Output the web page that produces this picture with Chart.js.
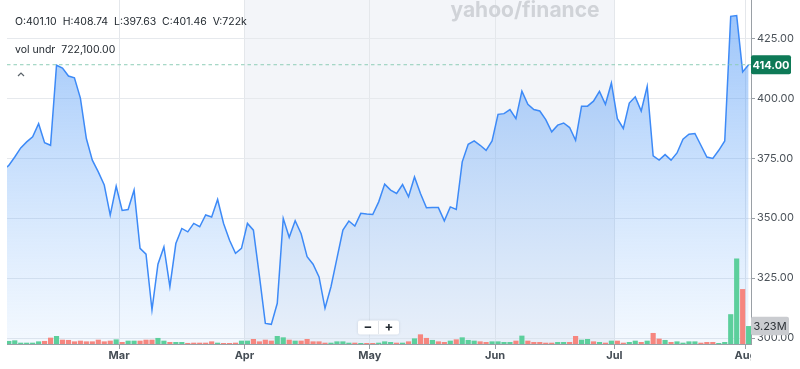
<!DOCTYPE html>
<html>
<head>
<meta charset="utf-8">
<script src="https://cdn.jsdelivr.net/npm/chart.js@4.4.1/dist/chart.umd.min.js"></script>
<style>
  html, body { margin: 0; padding: 0; background: #fff; }
  #wrap { width: 800px; height: 369px; position: relative; }
</style>
</head>
<body>
<div id="wrap"><canvas id="priceChart"></canvas></div>
<script>
// daily closes, one per trading day (Feb -> Aug 1)
const closes = [370, 372, 375.5, 379.3, 381.8, 383.9, 389.4, 381.5, 380.4, 413.8,
  412.6, 409.3, 408.5, 400.1, 383.2, 374.2, 369.3, 363.8, 351.3, 363.3,
  353.2, 353.6, 361.7, 337.4, 335.0, 311.7, 330.8, 338.0, 321.4, 339.4,
  345.7, 344.3, 347.8, 346.4, 351.3, 350.5, 357.8, 347.8, 340.8, 335.3,
  337.4, 347.8, 345.0, 326.0, 306.1, 305.7, 314.5, 349.9, 342.0, 348.9,
  343.5, 333.9, 330.8, 325.5, 312.4, 321.4, 333.2, 345.0, 348.8, 346.7,
  352.0, 351.7, 351.5, 356.8, 364.2, 361.7, 360.3, 364.0, 358.9, 367.2,
  360.3, 354.3, 354.4, 354.4, 348.9, 354.7, 353.6, 373.5, 380.8, 382.2,
  380.4, 378.3, 382.2, 393.3, 393.6, 395.3, 391.5, 403.0, 397.5, 395.3,
  394.7, 391.1, 386.0, 388.8, 389.7, 387.8, 382.5, 396.7, 396.7, 398.8,
  402.9, 397.5, 406.4, 391.5, 387.4, 398.0, 400.6, 394.7, 405.0, 376.0,
  374.2, 376.5, 374.2, 377.2, 382.9, 385.0, 385.3, 380.4, 375.5, 374.9,
  378.3, 382.2, 434.2, 434.5, 411.0, 414.0];

// volume in millions
const volumes = [0.30, 0.50, 0.61, 0.18, 0.18, 0.18, 0.42, 0.50, 1.10, 1.41,
  0.73, 0.68, 0.42, 0.55, 0.42, 0.42, 0.73, 0.42, 0.55, 0.79,
  0.31, 0.55, 0.55, 0.55, 0.73, 0.73, 1.05, 0.55, 0.31, 0.31,
  0.31, 0.13, 0.18, 0.18, 0.18, 0.42, 0.18, 0.12, 0.12, 0.18,
  0.55, 0.55, 0.86, 0.42, 0.73, 0.55, 1.41, 1.16, 0.73, 0.55,
  0.55, 0.86, 0.42, 0.42, 0.18, 0.18, 0.42, 0.42, 0.18, 0.18,
  0.12, 0.12, 0.12, 0.18, 0.42, 0.31, 0.18, 0.18, 0.42, 0.97,
  1.71, 1.05, 0.68, 0.42, 0.31, 0.55, 0.79, 1.16, 0.68, 0.55,
  0.42, 0.31, 0.42, 0.42, 0.31, 0.31, 0.55, 1.47, 0.55, 0.31,
  0.31, 0.18, 0.18, 0.31, 0.31, 0.31, 1.41, 0.73, 0.86, 0.42,
  0.31, 0.18, 0.55, 0.55, 0.18, 0.31, 0.55, 0.31, 0.55, 1.96,
  0.92, 0.68, 0.31, 0.42, 0.18, 0.42, 0.42, 0.18, 0.31, 0.31,
  0.12, 0.31, 5.4, 15.6, 10.0, 3.23];

// 1 = up day (green bar), 0 = down day (red bar)
const volUp = [1,1,1,1,1,1,1,0,0,1, 0,0,0,0,0,0,0,0,0,1,
  0,1,1,0,0,0,1,1,0,1, 1,0,0,0,0,0,1,0,0,0,
  1,1,0,0,0,0,1,1,0,1, 0,0,0,0,0,1,1,1,1,0,
  1,0,0,1,1,1,0,1,0,1, 0,0,1,0,0,1,0,1,1,1,
  0,0,1,1,1,1,0,1,0,0, 0,0,0,1,1,0,0,1,1,0,
  1,0,1,0,0,1,1,0,1,0, 0,1,0,1,1,1,1,0,0,0,
  1,1,1,1,0,1];

const monthLabels = ['Mar', 'Apr', 'May', 'Jun', 'Jul', 'Aug'];
const monthStart = [20, 41, 62, 83, 103, 125];   // index of first trading day
const priceTicks = [300, 325, 350, 375, 400, 425];
const lastPrice = 414;
const lastVolume = '3.23M';
const headerText = 'O:401.10  H:408.74  L:397.63  C:401.46  V:722k';
const studyText = 'vol undr  722,100.00';

const FONT = 'Inter, "Noto Sans", sans-serif';

const overlay = {
  id: 'overlay',
  beforeDraw(chart) {
    const c = chart.ctx, a = chart.chartArea, x = chart.scales.x;
    // shaded quarter Apr -> Jul
    const x0 = x.getPixelForValue(monthStart[1] - 0.5);
    const x1 = x.getPixelForValue(monthStart[4] - 0.5);
    c.save();
    c.fillStyle = '#f3f5f9';
    c.fillRect(x0, a.top, x1 - x0, a.bottom - a.top);
    c.restore();
  },
  afterDraw(chart) {
    const c = chart.ctx, a = chart.chartArea, x = chart.scales.x, y = chart.scales.y;
    c.save();

    // watermark
    c.fillStyle = '#d0d3d8';
    c.font = 'bold 21px ' + FONT;
    c.textAlign = 'center';
    c.textBaseline = 'alphabetic';
    c.fillText('yahoo/finance', 525, 17);

    // header
    c.fillStyle = '#232a31';
    c.font = '10.5px ' + FONT;
    c.textAlign = 'left';
    c.textBaseline = 'middle';
    c.fillText(headerText, 15, 22);
    c.fillText(studyText, 15, 50);

    // collapse caret
    c.strokeStyle = '#5b636a';
    c.lineWidth = 1.2;
    c.beginPath();
    c.moveTo(18, 76); c.lineTo(21, 73); c.lineTo(24, 76);
    c.stroke();

    // last price dashed line
    const yp = y.getPixelForValue(lastPrice);
    c.strokeStyle = '#8fcdb8';
    c.lineWidth = 1;
    c.setLineDash([3.5, 3]);
    c.beginPath();
    c.moveTo(a.left, yp); c.lineTo(a.right, yp);
    c.stroke();
    c.setLineDash([]);

    // last price label
    c.fillStyle = '#0e7a57';
    c.beginPath();
    c.roundRect(a.right, yp - 9.5, 40, 19, 2);
    c.fill();
    c.fillStyle = '#fff';
    c.font = 'bold 11px ' + FONT;
    c.textAlign = 'center';
    c.fillText(lastPrice.toFixed(2), a.right + 20, yp + 0.5);

    // last volume label
    const vb = chart.scales.vol.getPixelForValue(volumes[volumes.length - 1]);
    c.fillStyle = '#caccd0';
    c.beginPath();
    c.roundRect(a.right, vb - 9.5, 38, 18.5, 2);
    c.fill();
    c.fillStyle = '#2c3136';
    c.font = '11px ' + FONT;
    c.fillText(lastVolume, a.right + 19, vb);

    // month labels, clipped at the plot's right edge
    c.save();
    c.beginPath();
    c.rect(0, a.bottom, a.right, chart.height - a.bottom);
    c.clip();
    c.fillStyle = '#464e56';
    c.font = 'bold 11px ' + FONT;
    c.textAlign = 'center';
    monthStart.forEach((m, i) => {
      c.fillText(monthLabels[i], x.getPixelForValue(m - 0.5), 356);
    });
    c.restore();

    // zoom buttons
    c.shadowColor = 'rgba(0,0,0,0.12)';
    c.shadowBlur = 3;
    c.fillStyle = '#fff';
    c.beginPath();
    c.roundRect(358, 320.5, 41, 14, 2);
    c.fill();
    c.shadowBlur = 0;
    c.strokeStyle = '#e3e6ea';
    c.beginPath();
    c.moveTo(378.5, 321); c.lineTo(378.5, 334);
    c.stroke();
    c.fillStyle = '#232a31';
    c.font = 'bold 13px ' + FONT;
    c.fillText('\u2212', 368, 327.5);
    c.fillText('+', 389, 327.5);

    c.restore();
  }
};

const ctx = document.getElementById('priceChart').getContext('2d');
new Chart(ctx, {
  data: {
    datasets: [{
      type: 'line',
      label: 'Close',
      data: closes.map((v, i) => ({x: i, y: v})),
      yAxisID: 'y',
      borderColor: '#3d8af7',
      borderWidth: 1.5,
      pointRadius: 0,
      tension: 0,
      fill: 'start',
      order: 2,
      backgroundColor: (c) => {
        const a = c.chart.chartArea;
        if (!a) return 'rgba(70,145,245,0.3)';
        const g = c.chart.ctx.createLinearGradient(0, a.top, 0, a.bottom);
        g.addColorStop(0, 'rgba(70,145,245,0.55)');
        g.addColorStop(1, 'rgba(110,175,250,0.08)');
        return g;
      }
    }, {
      type: 'bar',
      label: 'Volume',
      data: volumes.map((v, i) => ({x: i, y: v})),
      yAxisID: 'vol',
      backgroundColor: volUp.map(u => u ? '#5ccf9c' : '#f6867f'),
      barThickness: 4.5,
      order: 1
    }]
  },
  options: {
    responsive: true,
    maintainAspectRatio: false,
    animation: false,
    layout: { padding: { left: 7, top: 0, right: 0, bottom: 0 } },
    plugins: { legend: { display: false }, tooltip: { enabled: false } },
    scales: {
      x: {
        type: 'linear',
        offset: false,
        min: 0.7,
        max: 125.4,
        afterBuildTicks: s => { s.ticks = monthStart.map(m => ({value: m - 0.5})); },
        ticks: { display: false },
        grid: { offset: false, color: '#e4e7eb', tickLength: 5, tickColor: '#9aa0a6' },
        border: { color: '#9aa0a6' },
        afterFit: s => { s.height = 25; s.paddingLeft = 0; s.paddingRight = 0; }
      },
      y: {
        position: 'right',
        min: 297.5,
        max: 441,
        afterBuildTicks: s => { s.ticks = priceTicks.map(v => ({value: v})); },
        ticks: {
          callback: v => v.toFixed(2),
          color: '#4b5259',
          font: { family: FONT, size: 11 },
          padding: 2
        },
        grid: { color: '#e6e9ed', tickLength: 4, tickColor: '#9aa0a6' },
        border: { color: '#9aa0a6' },
        afterFit: s => { s.width = 49; s.paddingTop = 0; s.paddingBottom = 0; }
      },
      vol: { display: false, min: 0, max: 63 }
    }
  },
  plugins: [overlay]
});
</script>
</body>
</html>
